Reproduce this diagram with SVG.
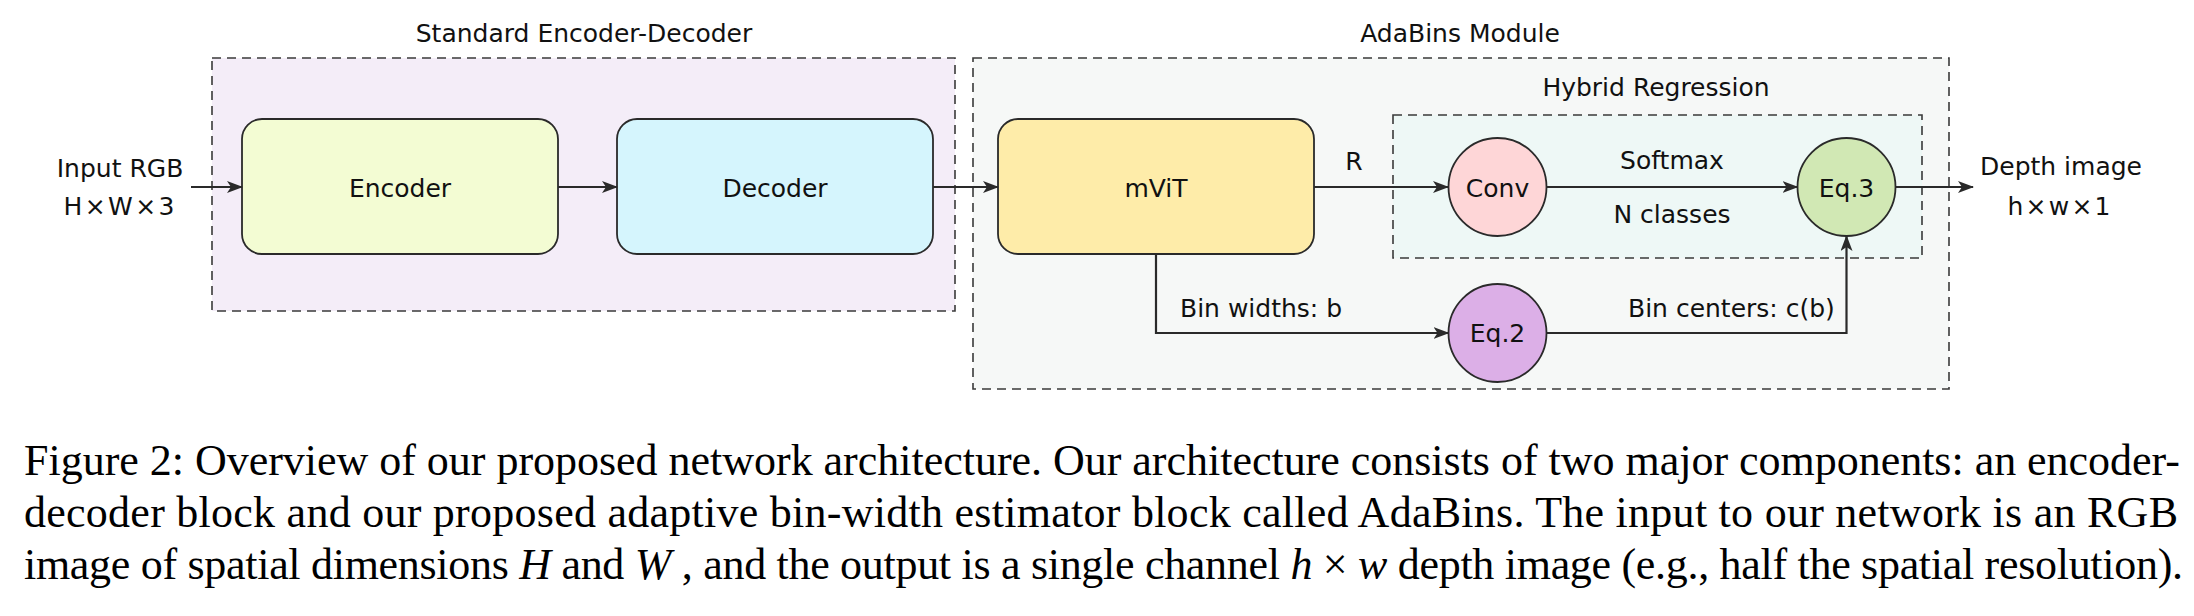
<svg xmlns="http://www.w3.org/2000/svg" width="2194" height="616" viewBox="0 0 2194 616">
<style>
  .t{font-family:"DejaVu Sans",sans-serif;font-size:25px;fill:#111;}
  .m{text-anchor:middle;}
  .grp{stroke:#3a3a3a;stroke-width:1.6;stroke-dasharray:9 6;}
  .node{stroke:#2a2a2a;stroke-width:1.8;}
  .conn{fill:none;stroke:#2a2a2a;stroke-width:2.2;}
  .cap{font-family:"Liberation Serif","Times New Roman",serif;font-size:44px;fill:#000;}
  .it{font-style:italic;}
</style>
<defs>
  <marker id="arr" viewBox="0 0 16 12" refX="15" refY="6" markerWidth="16" markerHeight="12" markerUnits="userSpaceOnUse" orient="auto">
    <path d="M0,0 L16,6 L0,12 L4,6 Z" fill="#2a2a2a"/>
  </marker>
</defs>
<rect width="2194" height="616" fill="#ffffff"/>

<g id="group-encoder-decoder">
  <rect class="grp" x="212" y="58" width="743" height="253" fill="#f4edf8"/>
  <text class="t m" x="584" y="42">Standard Encoder-Decoder</text>
</g>
<g id="group-adabins">
  <rect class="grp" x="973" y="58" width="976" height="331" fill="#f6f8f7"/>
  <text class="t m" x="1460" y="42">AdaBins Module</text>
</g>
<g id="group-hybrid">
  <rect class="grp" x="1393" y="115" width="529" height="143" fill="#eef8f6"/>
  <text class="t m" x="1656" y="96">Hybrid Regression</text>
</g>

<g id="input">
  <text class="t m" x="120" y="177">Input RGB</text>
  <text class="t m" x="119" y="215" textLength="111" lengthAdjust="spacing">H × W × 3</text>
</g>
<g id="encoder">
  <rect class="node" x="242" y="119" width="316" height="135" rx="20" fill="#f3fcd3"/>
  <text class="t m" x="400" y="197">Encoder</text>
</g>
<g id="decoder">
  <rect class="node" x="617" y="119" width="316" height="135" rx="20" fill="#d5f5fd"/>
  <text class="t m" x="775" y="197">Decoder</text>
</g>
<g id="mvit">
  <rect class="node" x="998" y="119" width="316" height="135" rx="20" fill="#feeca9"/>
  <text class="t m" x="1156" y="197">mViT</text>
</g>
<g id="conv">
  <circle class="node" cx="1497.5" cy="187" r="49" fill="#fed6d7"/>
  <text class="t m" x="1497.5" y="197">Conv</text>
</g>
<g id="eq3">
  <circle class="node" cx="1846.5" cy="187" r="49" fill="#d1e8b4"/>
  <text class="t m" x="1846.5" y="197">Eq.3</text>
</g>
<g id="eq2">
  <circle class="node" cx="1497.5" cy="333" r="49" fill="#dcafe7"/>
  <text class="t m" x="1497.5" y="342">Eq.2</text>
</g>
<g id="output">
  <text class="t m" x="2061" y="175">Depth image</text>
  <text class="t m" x="2059" y="215" textLength="103" lengthAdjust="spacing">h × w × 1</text>
</g>

<g id="connectors">
  <line class="conn" x1="191" y1="187" x2="242" y2="187" marker-end="url(#arr)"/>
  <line class="conn" x1="558" y1="187" x2="617" y2="187" marker-end="url(#arr)"/>
  <line class="conn" x1="933" y1="187" x2="998" y2="187" marker-end="url(#arr)"/>
  <line class="conn" x1="1314" y1="187" x2="1448" y2="187" marker-end="url(#arr)"/>
  <line class="conn" x1="1546.5" y1="187" x2="1797.5" y2="187" marker-end="url(#arr)"/>
  <line class="conn" x1="1895.5" y1="187" x2="1973" y2="187" marker-end="url(#arr)"/>
  <polyline class="conn" points="1156,254 1156,333 1448.5,333" marker-end="url(#arr)"/>
  <polyline class="conn" points="1546.5,333 1846.5,333 1846.5,236" marker-end="url(#arr)"/>
  <text class="t m" x="1354" y="170">R</text>
  <text class="t m" x="1672" y="169">Softmax</text>
  <text class="t m" x="1672" y="223">N classes</text>
  <text class="t" x="1180" y="317">Bin widths: b</text>
  <text class="t" x="1628" y="317">Bin centers: c(b)</text>
</g>

<g id="caption">
  <text class="cap" x="24" y="475" textLength="2156" lengthAdjust="spacing">Figure 2: Overview of our proposed network architecture. Our architecture consists of two major components: an encoder-</text>
  <text class="cap" x="24" y="527" textLength="2154" lengthAdjust="spacing">decoder block and our proposed adaptive bin-width estimator block called AdaBins. The input to our network is an RGB</text>
  <text class="cap" x="24" y="579" textLength="2159" lengthAdjust="spacing">image of spatial dimensions <tspan class="it">H</tspan> and <tspan class="it">W</tspan> , and the output is a single channel <tspan class="it">h</tspan> × <tspan class="it">w</tspan> depth image (e.g., half the spatial resolution).</text>
</g>
</svg>
